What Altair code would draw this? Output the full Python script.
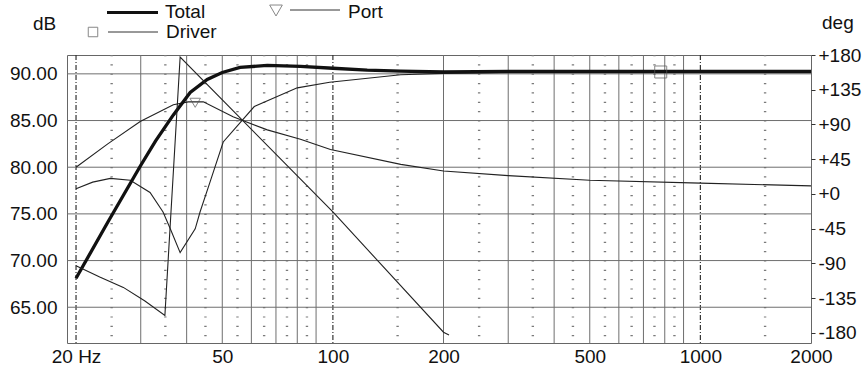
import altair as alt
import pandas as pd

# ---------------- data ----------------
total_freq = [20, 24.4, 29.9, 32.9, 36.8, 40.9, 45.5, 50, 55.9, 66.3, 81.6, 100, 124, 153, 200, 300, 500, 1000, 2000]
total_db = [68.1, 74.1, 80.1, 82.8, 85.6, 88.0, 89.4, 90.15, 90.7, 90.9, 90.8, 90.6, 90.4, 90.3, 90.2, 90.25, 90.25, 90.25, 90.25]

driver_freq = [20, 22.2, 24.8, 28.1, 31.8, 34.5, 36.1, 38.4, 42.2, 43.5, 46.3, 50.3, 61.1, 80, 98, 153, 200, 286, 400, 1000, 2000]
driver_db = [77.7, 78.4, 78.8, 78.6, 77.3, 75.2, 73.4, 70.85, 73.4, 75.2, 78.4, 82.7, 86.5, 88.5, 89.1, 89.9, 90.05, 90.15, 90.22, 90.25, 90.25]

port_freq = [20, 24.4, 29.9, 36.8, 40.4, 44.4, 53.5, 66.3, 81.6, 98.5, 153, 200, 300, 500, 1000, 2000]
port_db = [80.0, 82.5, 84.9, 86.7, 87.0, 87.0, 85.4, 84.0, 83.0, 81.9, 80.3, 79.6, 79.1, 78.6, 78.3, 78.0]

phase_freq = [20, 23.2, 26.9, 30.8, 34.9, 38.4, 100, 200, 207]
phase_deg = [-93, -107.5, -121, -138.6, -157.3, 177.4, -23.3, -179, -182.5]

marker_driver_freq = [780]
marker_driver_db = [90.2]
marker_port_freq = [42.2]
marker_port_db = [86.9]

major_grid_freq = [30, 40, 50, 60, 70, 80, 90, 200, 300, 400, 500, 600, 700, 800, 900]
dashed_grid_freq = [20, 100, 1000]
minor_grid_freq = [25, 35, 45, 55, 65, 75, 85, 150, 250, 350, 450, 550, 650, 750, 850, 1500]
grid_db = [65, 70, 75, 80, 85, 90]

x_tick_values = [20, 50, 100, 200, 500, 1000, 2000]
db_tick_values = [65, 70, 75, 80, 85, 90]
deg_tick_values = [-180, -135, -90, -45, 0, 45, 90, 135, 180]

legend_labels = ["Total", "Driver", "Port"]
left_title = ["dB"]
right_title = ["deg"]

# ---------------- chart ----------------
W, H = 744, 288
FONT = "Liberation Sans"
FS = 19
INK = "#111111"
GRID = "#6e6e6e"

x_scale = alt.Scale(type="log", domain=[18.9, 2000], nice=False)
y_scale = alt.Scale(domain=[61.17, 92.02], nice=False, zero=False)
p_scale = alt.Scale(domain=[-193, 180], nice=False, zero=False)

x_axis = alt.Axis(values=x_tick_values,
                  labelExpr="datum.value == 20 ? '20 Hz' : '' + datum.value",
                  ticks=False, domain=False, grid=False, labelFont=FONT,
                  labelFontSize=FS, labelColor=INK, labelPadding=4,
                  labelOverlap=False, labelFlush=False, title=None)
y_axis = alt.Axis(values=db_tick_values, format=".2f", ticks=False, domain=False,
                  grid=False, labelFont=FONT, labelFontSize=FS, labelColor=INK,
                  labelPadding=10, title=None)
p_axis = alt.Axis(orient="right", values=deg_tick_values,
                  labelExpr="datum.value > 0 ? '+' + datum.value : (datum.value == 0 ? '\u00a0\u00a0+0' : '' + datum.value)",
                  ticks=True, tickSize=4, tickColor="#333333", domain=False, grid=False,
                  labelFont=FONT, labelFontSize=FS, labelColor=INK, labelPadding=3,
                  labelOverlap=False, labelFlush=False, title=None)

X = alt.X("f:Q", scale=x_scale, axis=x_axis)
Ydb = alt.Y("db:Q", scale=y_scale, axis=y_axis)

grid_minor = alt.Chart(pd.DataFrame({"f": minor_grid_freq})).mark_rule(
    color="#7a7a7a", strokeWidth=2.4, strokeDash=[1.2, 8.135]
).encode(x=X, y=alt.value(0), y2=alt.value(H))

grid_major = alt.Chart(pd.DataFrame({"f": major_grid_freq})).mark_rule(
    color=GRID, strokeWidth=1
).encode(x=X, y=alt.value(0), y2=alt.value(H))

grid_dashed = alt.Chart(pd.DataFrame({"f": dashed_grid_freq})).mark_rule(
    color="#333333", strokeWidth=1.2, strokeDash=[5, 2, 1, 2]
).encode(x=X, y=alt.value(0), y2=alt.value(H))

grid_h = alt.Chart(pd.DataFrame({"db": grid_db})).mark_rule(
    color=GRID, strokeWidth=1
).encode(y=Ydb, x=alt.value(0), x2=alt.value(W))

port = alt.Chart(pd.DataFrame({"f": port_freq, "db": port_db})).mark_line(
    color="#222222", strokeWidth=1.1
).encode(x=X, y=Ydb)

driver = alt.Chart(pd.DataFrame({"f": driver_freq, "db": driver_db})).mark_line(
    color="#222222", strokeWidth=1.1
).encode(x=X, y=Ydb)

total = alt.Chart(pd.DataFrame({"f": total_freq, "db": total_db})).mark_line(
    color=INK, strokeWidth=3.3
).encode(x=X, y=Ydb)

m_driver = alt.Chart(pd.DataFrame({"f": marker_driver_freq, "db": marker_driver_db})).mark_point(
    shape="square", filled=False, size=144, color="#555555", strokeWidth=1
).encode(x=X, y=Ydb)

m_port = alt.Chart(pd.DataFrame({"f": marker_port_freq, "db": marker_port_db})).mark_point(
    shape="triangle-down", filled=False, size=110, color="#555555", strokeWidth=1
).encode(x=X, y=Ydb)

phase = alt.Chart(pd.DataFrame({"f": phase_freq, "deg": phase_deg})).mark_line(
    color="#222222", strokeWidth=1.1
).encode(x=X, y=alt.Y("deg:Q", scale=p_scale, axis=p_axis))

# ----- legend and corner titles (placed in the padding) -----
one = pd.DataFrame({"k": [0]})


def txt(label, x, y):
    return alt.Chart(pd.DataFrame({"t": [label]})).mark_text(
        font=FONT, fontSize=FS, color=INK, align="left", baseline="alphabetic"
    ).encode(x=alt.value(x), y=alt.value(y), text="t:N")


def seg(x1, x2, y, w, c):
    return alt.Chart(one).mark_rule(color=c, strokeWidth=w).encode(
        x=alt.value(x1), x2=alt.value(x2), y=alt.value(y))


leg = [
    seg(40, 91, -42.5, 3, INK),
    txt(legend_labels[0], 98, -37),
    alt.Chart(one).mark_point(shape="square", filled=False, size=90, color="#555555",
                              strokeWidth=1).encode(x=alt.value(26), y=alt.value(-23)),
    seg(41, 91, -23, 1, "#333333"),
    txt(legend_labels[1], 99, -17),
    alt.Chart(one).mark_point(shape="triangle-down", filled=False, size=160, color="#555555",
                              strokeWidth=1).encode(x=alt.value(209), y=alt.value(-44.5)),
    seg(223, 273, -45, 1, "#333333"),
    txt(legend_labels[2], 281, -37),
    txt(left_title[0], -34, -25),
    txt(right_title[0], 755, -26.5),
]

left = alt.layer(grid_minor, grid_major, grid_dashed, grid_h, port, driver, total,
                 m_driver, m_port, *leg)

chart = alt.layer(left, phase).resolve_scale(y="independent").properties(
    width=W, height=H,
    padding={"left": 67, "top": 55, "right": 53, "bottom": 22},
    autosize=alt.AutoSizeParams(type="none"),
    background="white",
).configure_view(stroke="#666666", strokeWidth=1)

chart.save("out.html", embed_options={"renderer": "svg", "actions": False})
